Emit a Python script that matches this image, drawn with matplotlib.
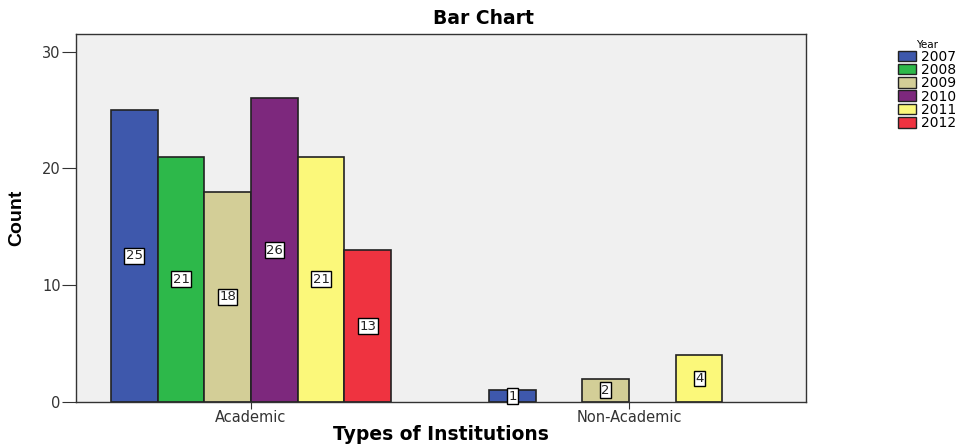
import numpy as np
import matplotlib.pyplot as plt
from matplotlib.patches import Patch

plt.rcParams['font.family'] = ['DejaVu Sans']

# Dados
categorias = ['Academic', 'Non-Academic']
anos = ['2007', '2008', '2009', '2010', '2011', '2012']
academic = [25, 21, 18, 26, 21, 13]
non_academic = [1, 0, 2, 0, 4, 0]
cores = ['#3e58ac', '#2db84a', '#d3ce97', '#7d287d', '#fbf87a', '#ef3340']

fig = plt.figure(figsize=(9.67, 4.46), dpi=100)
ax = fig.add_axes([0.0786, 0.0987, 0.7549, 0.8251])
ax.set_facecolor('#f0f0f0')

x = np.arange(len(categorias))
w = 0.1235
for i, ano in enumerate(anos):
    vals = [academic[i], non_academic[i]]
    pos = x + (i - 2.5) * w
    for p, v in zip(pos, vals):
        if v == 0:
            continue
        ax.bar(p, v, w, color=cores[i], edgecolor='#222222', linewidth=1.2)
        ax.text(p, v / 2, str(v), ha='center', va='center', fontsize=9.5,
                color='#222222',
                bbox=dict(boxstyle='square,pad=0.1', fc='white', ec='black', lw=1.0))

ax.set_xlim(-0.463, 1.468)
ax.set_ylim(0, 31.5)
ax.set_yticks([0, 10, 20, 30])
ax.set_xticks(x)
ax.set_xticklabels(categorias)
ax.tick_params(axis='both', direction='out', labelsize=10.5,
               labelcolor='#333333', color='#333333', pad=1)
ax.tick_params(axis='y', length=10)
ax.tick_params(axis='x', length=5)
for s in ax.spines.values():
    s.set_color('#333333')
    s.set_linewidth(1.0)

ax.set_title('Bar Chart', fontsize=13.5, fontweight='bold', x=0.558, pad=7)
ax.set_xlabel('Types of Institutions', fontsize=13.5, fontweight='bold', labelpad=0)
ax.set_ylabel('Count', fontsize=14, fontweight='bold',
              family='Liberation Sans', labelpad=12)

handles = [Patch(facecolor=c, edgecolor='#222222', label=a) for c, a in zip(cores, anos)]
leg = fig.legend(handles=handles, title='Year', loc='upper left',
                 bbox_to_anchor=(0.921, 0.925), frameon=False, fontsize=10,
                 title_fontsize=7.5, handlelength=1.3, handleheight=0.8,
                 handletextpad=0.4, labelspacing=-0.05, borderpad=0)

plt.savefig('out.png', dpi=100)
